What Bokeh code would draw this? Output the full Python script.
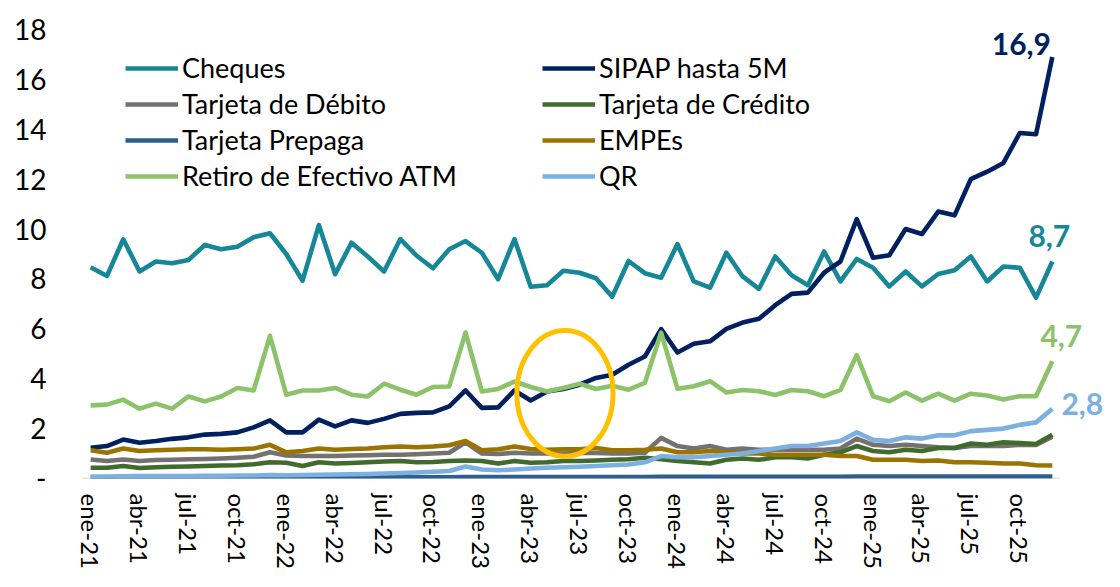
from bokeh.plotting import figure
from bokeh.models import Legend, LegendItem, Label, FixedTicker
from bokeh.embed import file_html
from bokeh.resources import INLINE

month_names = ["ene", "feb", "mar", "abr", "may", "jun", "jul", "ago", "sep", "oct", "nov", "dic"]
years = ["21", "22", "23", "24", "25"]
months = [f"{m}-{y}" for y in years for m in month_names]

cheques = [8.47, 8.12, 9.59, 8.30, 8.70, 8.63, 8.76, 9.36, 9.19, 9.29, 9.67, 9.83,
           9.00, 7.93, 10.16, 8.19, 9.45, 8.90, 8.30, 9.60, 8.93, 8.43, 9.19, 9.52,
           9.05, 7.99, 9.60, 7.69, 7.75, 8.33, 8.25, 8.03, 7.29, 8.72, 8.23, 8.05,
           9.40, 7.90, 7.65, 9.05, 8.10, 7.60, 8.90, 8.15, 7.75, 9.10, 7.90, 8.80,
           8.45, 7.70, 8.30, 7.70, 8.20, 8.35, 8.90, 7.90, 8.50, 8.45, 7.25, 8.70]
sipap = [1.23, 1.30, 1.56, 1.43, 1.50, 1.59, 1.65, 1.76, 1.79, 1.85, 2.05, 2.33,
         1.85, 1.85, 2.36, 2.09, 2.33, 2.23, 2.39, 2.59, 2.63, 2.65, 2.89, 3.53,
         2.83, 2.85, 3.53, 3.13, 3.49, 3.59, 3.76, 4.03, 4.16, 4.56, 4.89, 5.99,
         5.05, 5.40, 5.50, 6.00, 6.25, 6.40, 6.95, 7.40, 7.45, 8.25, 8.70, 10.40,
         8.85, 8.95, 10.00, 9.80, 10.70, 10.55, 12.00, 12.30, 12.65, 13.85, 13.80, 16.90]
debito = [0.76, 0.70, 0.76, 0.70, 0.74, 0.75, 0.77, 0.78, 0.80, 0.83, 0.87, 1.05,
          0.92, 0.90, 0.90, 0.90, 0.92, 0.93, 0.95, 0.95, 0.97, 1.00, 1.03, 1.45,
          1.00, 0.98, 1.03, 1.00, 1.00, 1.00, 1.02, 1.02, 1.00, 1.00, 1.03, 1.63,
          1.30, 1.20, 1.30, 1.15, 1.20, 1.15, 1.15, 1.15, 1.15, 1.15, 1.20, 1.60,
          1.35, 1.30, 1.35, 1.30, 1.25, 1.22, 1.30, 1.30, 1.30, 1.35, 1.35, 1.68]
credito = [0.43, 0.43, 0.50, 0.42, 0.45, 0.47, 0.48, 0.50, 0.52, 0.53, 0.57, 0.65,
           0.63, 0.50, 0.65, 0.60, 0.62, 0.65, 0.68, 0.70, 0.65, 0.66, 0.70, 0.72,
           0.70, 0.60, 0.70, 0.63, 0.65, 0.70, 0.70, 0.72, 0.75, 0.77, 0.83, 0.77,
           0.70, 0.65, 0.60, 0.75, 0.80, 0.75, 0.85, 0.85, 0.80, 0.95, 1.05, 1.30,
           1.10, 1.05, 1.15, 1.10, 1.22, 1.22, 1.40, 1.35, 1.45, 1.42, 1.38, 1.75]
prepaga = [0.05, 0.05, 0.05, 0.05, 0.05, 0.05, 0.05, 0.05, 0.05, 0.05, 0.05, 0.05,
           0.05, 0.05, 0.05, 0.05, 0.05, 0.05, 0.05, 0.05, 0.05, 0.05, 0.05, 0.06,
           0.06, 0.06, 0.06, 0.06, 0.06, 0.06, 0.06, 0.06, 0.06, 0.06, 0.06, 0.07,
           0.07, 0.07, 0.07, 0.07, 0.07, 0.07, 0.07, 0.07, 0.07, 0.07, 0.07, 0.08,
           0.08, 0.08, 0.08, 0.08, 0.08, 0.08, 0.08, 0.08, 0.08, 0.08, 0.08, 0.08]
empes = [1.13, 1.03, 1.20, 1.10, 1.13, 1.15, 1.17, 1.17, 1.15, 1.17, 1.20, 1.35,
         1.05, 1.10, 1.20, 1.15, 1.18, 1.20, 1.25, 1.28, 1.25, 1.28, 1.33, 1.50,
         1.13, 1.17, 1.28, 1.18, 1.15, 1.17, 1.17, 1.22, 1.13, 1.13, 1.15, 1.20,
         1.05, 1.05, 1.10, 1.05, 1.00, 1.00, 0.95, 0.95, 0.95, 0.95, 0.90, 0.90,
         0.75, 0.75, 0.75, 0.70, 0.72, 0.65, 0.65, 0.63, 0.60, 0.60, 0.53, 0.52]
atm = [2.93, 2.96, 3.16, 2.80, 3.00, 2.80, 3.29, 3.09, 3.29, 3.63, 3.53, 5.72,
       3.36, 3.53, 3.53, 3.63, 3.36, 3.29, 3.80, 3.56, 3.36, 3.67, 3.69, 5.85,
       3.49, 3.59, 3.89, 3.67, 3.49, 3.63, 3.80, 3.59, 3.72, 3.56, 3.83, 5.85,
       3.60, 3.70, 3.90, 3.45, 3.55, 3.50, 3.35, 3.55, 3.50, 3.30, 3.55, 4.95,
       3.30, 3.10, 3.45, 3.12, 3.40, 3.12, 3.40, 3.33, 3.17, 3.30, 3.30, 4.70]
qr = [0.08, 0.08, 0.09, 0.10, 0.10, 0.10, 0.10, 0.11, 0.11, 0.12, 0.12, 0.14,
      0.13, 0.14, 0.15, 0.16, 0.17, 0.18, 0.20, 0.22, 0.24, 0.27, 0.30, 0.48,
      0.36, 0.33, 0.36, 0.40, 0.43, 0.45, 0.47, 0.50, 0.53, 0.56, 0.65, 0.90,
      0.85, 0.85, 0.90, 0.95, 1.00, 1.10, 1.20, 1.30, 1.30, 1.40, 1.50, 1.85,
      1.55, 1.50, 1.65, 1.60, 1.73, 1.73, 1.90, 1.95, 2.00, 2.15, 2.25, 2.80]

series_names = ["Cheques", "SIPAP hasta 5M", "Tarjeta de Débito", "Tarjeta de Crédito",
                "Tarjeta Prepaga", "EMPEs", "Retiro de Efectivo ATM", "QR"]
series_values = [cheques, sipap, debito, credito, prepaga, empes, atm, qr]
series_colors = ["#168797", "#002060", "#767171", "#416B2C", "#2C5E8E", "#9A7300", "#8CC36A", "#7CB0E0"]

# highlight ellipse (annotation) center / size in data units
ell_x, ell_y, ell_w, ell_h = 29.1, 3.41, 5.9, 5.04

FONT = "Lato"
n = len(months)
x = list(range(n))

# frame spans 82..1104 px; extra room on the right for the end-value labels
p = figure(width=1104, height=571, output_backend="svg", toolbar_location=None,
           x_range=(-0.5, 62.2), y_range=(0, 18),
           min_border_left=82, min_border_right=0, min_border_top=29, min_border_bottom=92)
p.outline_line_color = None
p.grid.visible = False
p.background_fill_color = "white"
p.border_fill_color = "white"

# category axis baseline (only across the data months)
p.segment(x0=[-0.5], y0=[0], x1=[n - 0.5], y1=[0], line_color="#C8C8C8", line_width=1.5)

renderers = {}
for name, vals, col in zip(series_names, series_values, series_colors):
    r = p.line(x, vals, line_color=col, line_width=4.6, line_join="round")
    renderers[name] = r

p.ellipse(x=[ell_x], y=[ell_y], width=ell_w, height=ell_h, fill_color=None,
          line_color="#FFC000", line_width=5)

# axes
p.yaxis.ticker = FixedTicker(ticks=list(range(0, 19, 2)))
p.yaxis.major_label_overrides = {0: "-"}
p.yaxis.axis_line_color = None
p.yaxis.major_tick_line_color = None
p.yaxis.minor_tick_line_color = None
p.yaxis.major_label_text_font = FONT
p.yaxis.major_label_text_font_size = "28px"
p.yaxis.major_label_text_color = "black"
p.yaxis.major_label_standoff = 30

p.xaxis.ticker = FixedTicker(ticks=list(range(0, n, 3)))
p.xaxis.major_label_overrides = {i: months[i] for i in range(0, n, 3)}
p.xaxis.major_label_orientation = "vertical"
p.xaxis.axis_line_color = None
p.xaxis.major_tick_line_color = None
p.xaxis.minor_tick_line_color = None
p.xaxis.major_label_text_font = FONT
p.xaxis.major_label_text_font_size = "24px"
p.xaxis.major_label_text_color = "black"
p.xaxis.major_label_standoff = 9

def make_legend(names, loc):
    lg = Legend(items=[LegendItem(label=nm, renderers=[renderers[nm]]) for nm in names],
                location=loc, orientation="vertical")
    lg.label_text_font = FONT
    lg.label_text_font_size = "27px"
    lg.label_text_color = "black"
    lg.glyph_width = 53
    lg.glyph_height = 30
    lg.label_height = 30
    lg.label_standoff = 4
    lg.spacing = 3
    lg.padding = 0
    lg.margin = 0
    lg.border_line_color = None
    lg.background_fill_alpha = 0
    return lg

p.add_layout(make_legend(["Cheques", "Tarjeta de Débito", "Tarjeta Prepaga", "Retiro de Efectivo ATM"], (43, 286)))
p.add_layout(make_legend(["SIPAP hasta 5M", "Tarjeta de Crédito", "EMPEs", "QR"], (460, 286)))

# end-value labels
last = n - 1
end_labels = [(sipap, "#002060", -31, 13), (cheques, "#168797", -3, 25),
              (atm, "#8CC36A", 9, 25), (qr, "#7CB0E0", 30, 5)]
for vals, col, dx, dy in end_labels:
    txt = f"{vals[-1]:.1f}".replace(".", ",")
    p.add_layout(Label(x=last, y=vals[-1], text=txt, x_offset=dx, y_offset=dy,
                       text_color=col, text_font=FONT, text_font_style="bold",
                       text_font_size="30px", text_align="center", text_baseline="middle"))

open("out.html", "w").write(file_html(p, INLINE))
